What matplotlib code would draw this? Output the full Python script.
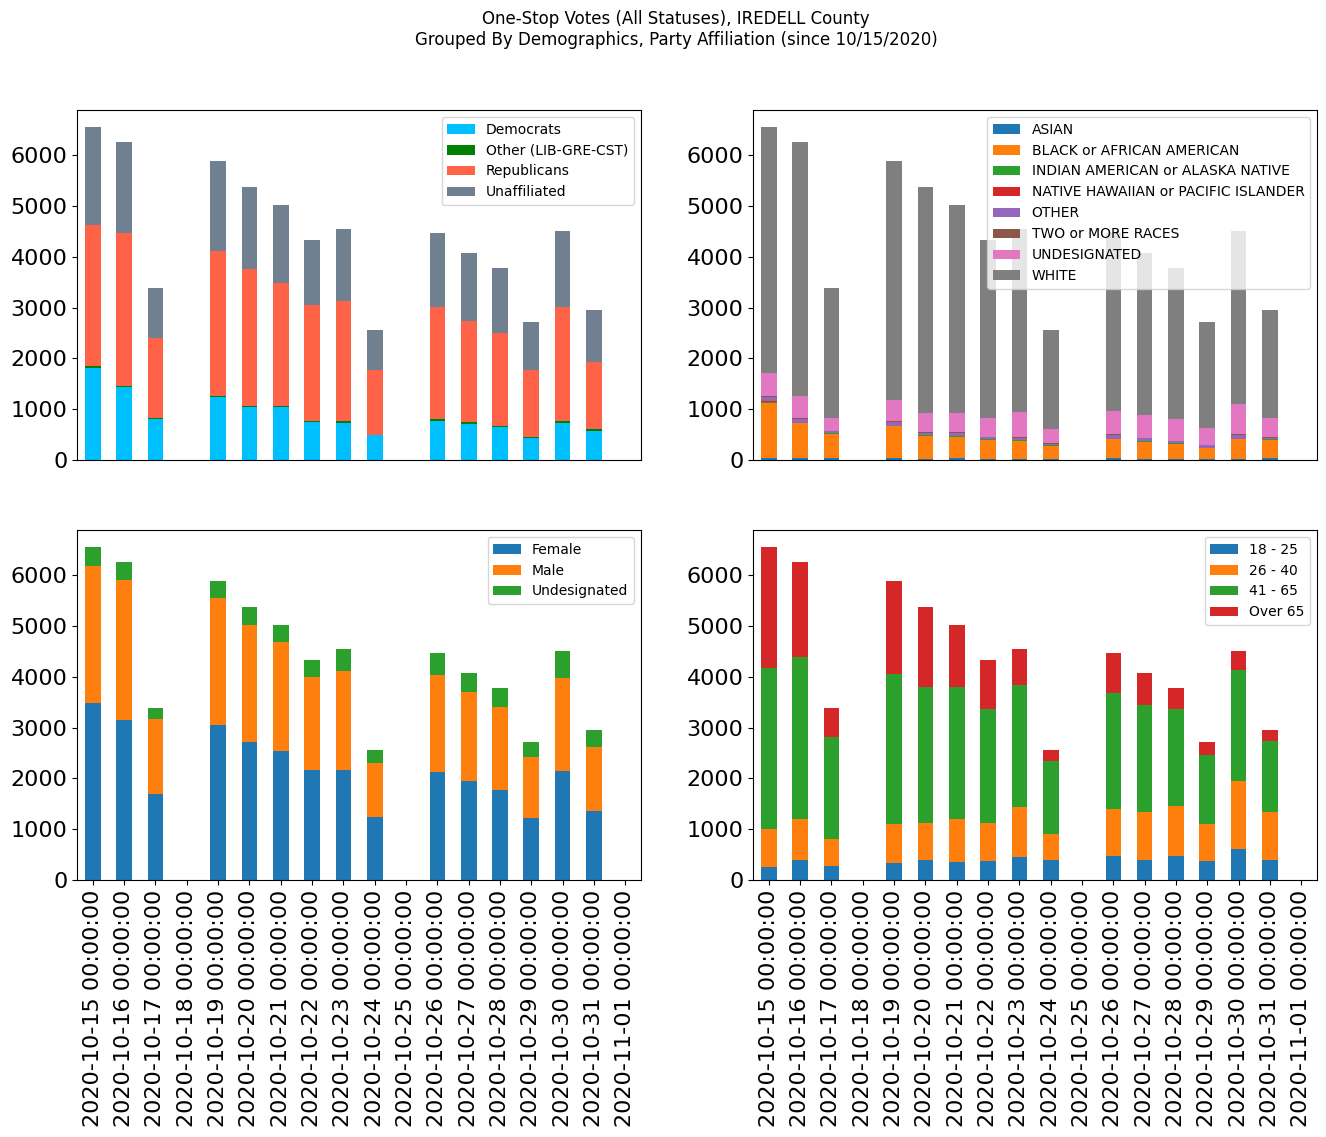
import pandas as pd
import matplotlib
matplotlib.use('Agg')
import matplotlib.pyplot as plt

# one-stop days, 2020-10-15 .. 2020-11-01
dates = pd.date_range('2020-10-15', '2020-11-01', freq='D')

# party affiliation
democrats = [1820, 1445, 808, 0, 1248, 1045, 1045, 756, 736, 493, 0, 769, 716, 650, 440, 736, 572, 0]
other_party = [33, 20, 20, 0, 20, 13, 26, 19, 33, 6, 0, 39, 33, 27, 20, 33, 39, 0]
republicans = [2779, 2996, 1583, 0, 2852, 2694, 2405, 2267, 2365, 1282, 0, 2208, 1991, 1826, 1321, 2234, 1321, 0]
unaffiliated = [1928, 1807, 979, 0, 1774, 1629, 1550, 1294, 1419, 781, 0, 1458, 1340, 1281, 939, 1511, 1025, 0]

# race
asian = [46, 46, 46, 0, 46, 20, 46, 20, 20, 20, 0, 46, 20, 20, 20, 20, 46, 0]
black = [1079, 684, 474, 0, 625, 460, 414, 381, 362, 263, 0, 368, 342, 302, 223, 394, 355, 0]
indian = [26, 5, 13, 0, 5, 13, 14, 4, 4, 3, 0, 5, 4, 4, 3, 5, 4, 0]
hawaiian = [4, 0, 0, 0, 2, 0, 0, 0, 0, 0, 0, 2, 0, 0, 0, 0, 0, 0]
other_race = [88, 74, 39, 0, 72, 40, 59, 49, 48, 36, 0, 72, 68, 49, 50, 74, 36, 0]
two_races = [27, 20, 7, 0, 26, 20, 13, 6, 20, 7, 0, 27, 7, 7, 7, 27, 13, 0]
undes_race = [447, 434, 250, 0, 408, 375, 382, 369, 493, 283, 0, 447, 447, 427, 329, 585, 375, 0]
white = [4843, 5005, 2561, 0, 4710, 4453, 4098, 3507, 3606, 1950, 0, 3507, 3192, 2975, 2088, 3409, 2128, 0]

# gender
female = [3489, 3154, 1695, 0, 3055, 2720, 2543, 2168, 2168, 1242, 0, 2129, 1951, 1774, 1222, 2148, 1360, 0]
male = [2700, 2759, 1478, 0, 2503, 2306, 2148, 1833, 1952, 1064, 0, 1912, 1755, 1636, 1202, 1834, 1261, 0]
undes_gender = [371, 355, 217, 0, 336, 355, 335, 335, 433, 256, 0, 433, 374, 374, 296, 532, 336, 0]

# age groups
age_18_25 = [257, 395, 276, 0, 336, 395, 355, 375, 454, 395, 0, 474, 395, 474, 375, 612, 395, 0]
age_26_40 = [750, 809, 533, 0, 769, 730, 849, 750, 987, 513, 0, 927, 947, 987, 730, 1342, 947, 0]
age_41_65 = [3157, 3184, 2000, 0, 2941, 2671, 2605, 2237, 2395, 1428, 0, 2290, 2112, 1901, 1362, 2171, 1388, 0]
age_over_65 = [2396, 1880, 581, 0, 1848, 1585, 1217, 974, 717, 226, 0, 783, 626, 422, 253, 389, 227, 0]

party_df = pd.DataFrame({'Democrats': democrats, 'Other (LIB-GRE-CST)': other_party,
                         'Republicans': republicans, 'Unaffiliated': unaffiliated}, index=dates)
race_df = pd.DataFrame({'ASIAN': asian, 'BLACK or AFRICAN AMERICAN': black,
                        'INDIAN AMERICAN or ALASKA NATIVE': indian,
                        'NATIVE HAWAIIAN or PACIFIC ISLANDER': hawaiian, 'OTHER': other_race,
                        'TWO or MORE RACES': two_races, 'UNDESIGNATED': undes_race,
                        'WHITE': white}, index=dates)
gender_df = pd.DataFrame({'Female': female, 'Male': male, 'Undesignated': undes_gender}, index=dates)
age_df = pd.DataFrame({'18 - 25': age_18_25, '26 - 40': age_26_40, '41 - 65': age_41_65,
                       'Over 65': age_over_65}, index=dates)

fig = plt.figure(figsize=(13.26, 11.37), dpi=100)

# axes placement (figure fractions)
ax_tl = fig.add_axes([0.0581, 0.5954, 0.4253, 0.3078])
ax_tr = fig.add_axes([0.5679, 0.5954, 0.4253, 0.3078])
ax_bl = fig.add_axes([0.0581, 0.2260, 0.4253, 0.3078])
ax_br = fig.add_axes([0.5679, 0.2260, 0.4253, 0.3078])

party_df.plot(kind='bar', stacked=True, ax=ax_tl, fontsize=16,
              color=['deepskyblue', 'green', 'tomato', 'slategray'])
race_df.plot(kind='bar', stacked=True, ax=ax_tr, fontsize=16)
gender_df.plot(kind='bar', stacked=True, ax=ax_bl, fontsize=16)
age_df.plot(kind='bar', stacked=True, ax=ax_br, fontsize=16)

for ax in [ax_tl, ax_tr, ax_bl, ax_br]:
    ax.legend(loc='upper right', fontsize=10)
    ax.set_xlabel('')

for ax in [ax_tl, ax_tr]:
    ax.tick_params(axis='x', bottom=False, labelbottom=False)

for ax in [ax_bl, ax_br]:
    ax.set_xticklabels([d.strftime('%Y-%m-%d %H:%M:%S') for d in dates], rotation=90)

fig.text(0.51, 0.991, 'One-Stop Votes (All Statuses), IREDELL County\n'
         'Grouped By Demographics, Party Affiliation (since 10/15/2020)',
         ha='center', va='top', fontsize=12)

fig.savefig('out.png', dpi=100)
